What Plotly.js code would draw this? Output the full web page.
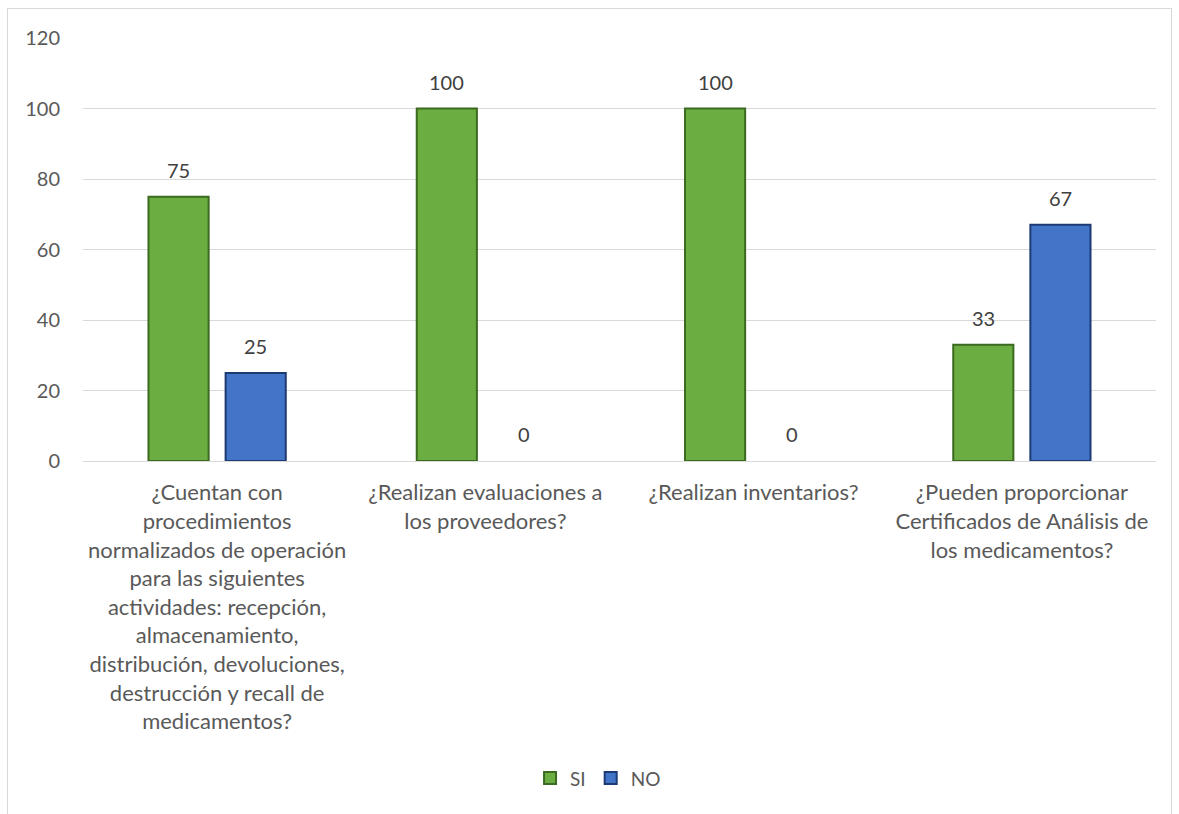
<!DOCTYPE html>
<html>
<head>
<meta charset="utf-8">
<script src="https://cdn.plot.ly/plotly-3.0.1.min.js"></script>
<style>
html,body{margin:0;padding:0;background:#fff;}
#chart{width:1179px;height:814px;}
#frame{position:absolute;left:7px;top:8px;width:1163px;height:830px;border:1px solid #d9d9d9;pointer-events:none;}
</style>
</head>
<body>
<div id="chart"></div>
<div id="frame"></div>
<script>
var categories = [
  "¿Cuentan con<br>procedimientos<br>normalizados de operación<br>para las siguientes<br>actividades: recepción,<br>almacenamiento,<br>distribución, devoluciones,<br>destrucción y recall de<br>medicamentos?",
  "¿Realizan evaluaciones a<br>los proveedores?",
  "¿Realizan inventarios?",
  "¿Pueden proporcionar<br>Certificados de Análisis de<br>los medicamentos?"
];
var seriesNames = ["SI", "NO"];
var siValues = [75, 100, 100, 33];
var noValues = [25, 0, 0, 67];
var yTicks = [0, 20, 40, 60, 80, 100, 120];

var fontFam = "Lato, 'Open Sans', sans-serif";
var W = 1179, H = 814;
var margin = {l: 83, r: 23, t: 38, b: 353};
var bargap = 0.425, bargroupgap = 0.22;

function barTrace(name, vals, fill, edge) {
  return {
    type: 'bar', name: name, x: categories, y: vals,
    marker: {color: fill, line: {color: edge, width: vals.map(function(v){return v > 0 ? 2 : 0;})}},
    hoverinfo: 'skip'
  };
}
var traces = [
  barTrace(seriesNames[0], siValues, '#6cad42', '#3b6a20'),
  barTrace(seriesNames[1], noValues, '#4274c8', '#1d3a72')
];

// data labels placed via annotations (offset of each bar within its group)
var band = (W - margin.l - margin.r) / categories.length;
var slot = band * (1 - bargap) / 2;
var annotations = [];
[siValues, noValues].forEach(function(vals, k) {
  vals.forEach(function(v, i) {
    annotations.push({
      x: categories[i], y: v, xref: 'x', yref: 'y', text: String(v), showarrow: false,
      xanchor: 'center', yanchor: 'bottom', yshift: 13, xshift: (k - 0.5) * slot,
      font: {family: fontFam, size: 20, color: '#404040'}
    });
  });
});

var layout = {
  width: W, height: H, margin: margin,
  paper_bgcolor: '#fff', plot_bgcolor: '#fff',
  font: {family: fontFam, size: 20, color: '#595959'},
  barmode: 'group', bargap: bargap, bargroupgap: bargroupgap,
  showlegend: true,
  legend: {orientation: 'h', x: 0.48, xanchor: 'center', y: -0.75, yanchor: 'middle',
           font: {family: fontFam, size: 19, color: '#595959'}, itemwidth: 30},
  annotations: annotations,
  xaxis: {
    type: 'category', showgrid: false, showline: true, linecolor: '#d9d9d9', linewidth: 1,
    ticks: '', tickangle: 0, ticklabelstandoff: 12,
    tickfont: {family: fontFam, size: 22, color: '#595959'}, automargin: false
  },
  yaxis: {
    range: [0, 120], tickvals: yTicks, ticktext: yTicks.map(String),
    showgrid: true, gridcolor: '#d9d9d9', gridwidth: 1, zeroline: true, zerolinecolor: '#d9d9d9',
    showline: false, ticks: '', ticklabelstandoff: 22,
    tickfont: {family: fontFam, size: 20, color: '#595959'}, automargin: false
  }
};

Plotly.newPlot('chart', traces, layout, {displayModeBar: false, staticPlot: true});
</script>
</body>
</html>
